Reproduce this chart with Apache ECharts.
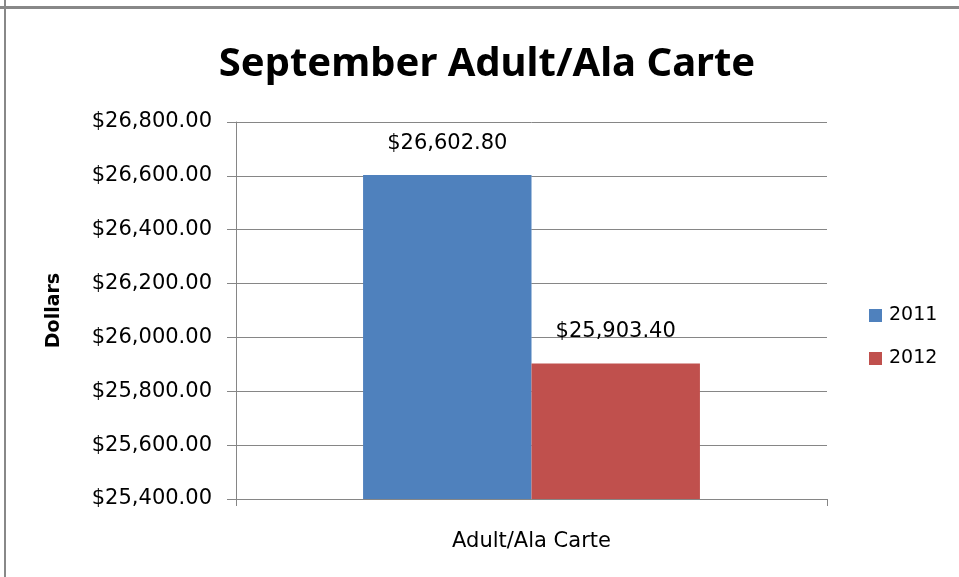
<!DOCTYPE html>
<html>
<head>
<meta charset="utf-8">
<script src="https://cdn.jsdelivr.net/npm/echarts@6/dist/echarts.min.js"></script>
<style>
html,body{margin:0;padding:0;background:#fff;}
#chart{width:959px;height:577px;}
</style>
</head>
<body>
<div id="chart"></div>
<script>
const titleText = 'September Adult/Ala Carte';
const categories = ['Adult/Ala Carte'];
const seriesNames = ['2011', '2012'];
const values2011 = [26602.80];
const values2012 = [25903.40];
const yMin = 25400, yMax = 26800, yStep = 200;
const yAxisName = 'Dollars';

const TFONT = '"Noto Sans", "Open Sans", sans-serif';
const FONT = '"DejaVu Sans", sans-serif';
function money(v) {
  return '$' + Number(v).toLocaleString('en-US', {minimumFractionDigits: 2, maximumFractionDigits: 2});
}

const chart = echarts.init(document.getElementById('chart'), null, {renderer: 'canvas'});
const gridColor = '#868686';
chart.setOption({
  backgroundColor: '#ffffff',
  animation: false,
  title: {
    text: titleText,
    left: 482, top: 40, textAlign: 'center',
    textStyle: {fontFamily: TFONT, fontSize: 40, fontWeight: 'bold', color: '#000'}
  },
  legend: {
    orient: 'vertical',
    left: 869, top: 306, padding: 0,
    itemWidth: 13, itemHeight: 13, itemGap: 24,
    icon: 'rect',
    data: seriesNames,
    textStyle: {fontFamily: FONT, fontSize: 19, color: '#000', padding: [0, 0, 0, 2]}
  },
  grid: {left: 236, right: 132, top: 122, bottom: 78, containLabel: false},
  xAxis: {
    type: 'category',
    data: categories,
    axisLine: {show: true, lineStyle: {color: gridColor, width: 1}},
    axisTick: {show: true, length: 7, alignWithLabel: false, lineStyle: {color: gridColor}},
    axisLabel: {fontFamily: FONT, fontSize: 21, color: '#000', margin: 32}
  },
  yAxis: {
    type: 'value',
    min: yMin, max: yMax, interval: yStep,
    name: yAxisName,
    nameLocation: 'middle',
    nameGap: 172,
    nameRotate: 90,
    nameTextStyle: {fontFamily: FONT, fontSize: 19, fontWeight: 'bold', color: '#000'},
    axisLine: {show: true, lineStyle: {color: gridColor, width: 1}},
    axisTick: {show: true, length: 9, lineStyle: {color: gridColor}},
    splitLine: {show: true, lineStyle: {color: gridColor, width: 1}},
    axisLabel: {fontFamily: FONT, fontSize: 21, color: '#000', margin: 24, formatter: money}
  },
  series: [
    {
      name: seriesNames[0], type: 'bar', data: values2011,
      barGap: '0%', barCategoryGap: '43%',
      itemStyle: {color: '#4F81BD'},
      label: {show: true, position: 'top', distance: 21, fontFamily: FONT, fontSize: 21, color: '#000', formatter: p => money(p.value)}
    },
    {
      name: seriesNames[1], type: 'bar', data: values2012,
      barGap: '0%', barCategoryGap: '43%',
      itemStyle: {color: '#C0504D'},
      label: {show: true, position: 'top', distance: 21, fontFamily: FONT, fontSize: 21, color: '#000', formatter: p => money(p.value)}
    }
  ],
  graphic: [
    {type: 'rect', shape: {x: 0, y: 6, width: 959, height: 3}, style: {fill: '#888888'}, silent: true},
    {type: 'rect', shape: {x: 4, y: 0, width: 2, height: 577}, style: {fill: '#888888'}, silent: true}
  ]
});
</script>
</body>
</html>
